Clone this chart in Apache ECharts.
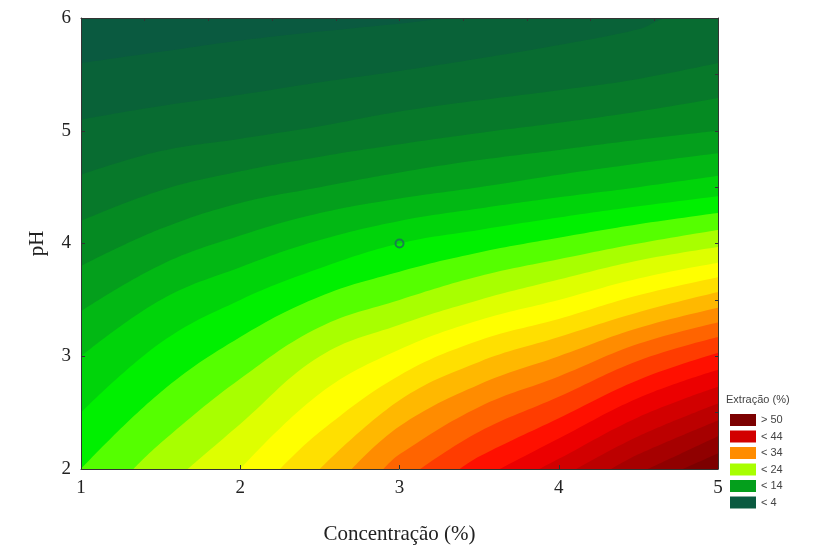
<!DOCTYPE html>
<html>
<head>
<meta charset="utf-8">
<script src="https://cdn.jsdelivr.net/npm/echarts@6/dist/echarts.min.js"></script>
<style>
  html, body { margin: 0; padding: 0; background: #fff; }
  #chart { width: 828px; height: 550px; }
</style>
</head>
<body>
<div id="chart"></div>
<script>
// contour lines: [concentration, pH] points, lower-left to upper-right
const iso04 = [[1, 5.6], [1.5, 5.7], [2, 5.8], [2.5, 5.88], [3, 5.95], [3.4, 6.0], [5, 6.0]]
const iso06 = [[1, 5.1], [1.5, 5.22], [2, 5.32], [2.5, 5.43], [3, 5.53], [3.5, 5.64], [4, 5.76], [4.5, 5.9], [4.7, 6.0], [5, 6.0]]
const iso08 = [[1, 4.61], [1.5, 4.82], [2, 4.93], [2.5, 5.04], [3, 5.17], [3.5, 5.27], [4, 5.36], [4.5, 5.46], [5, 5.6]]
const iso10 = [[1, 4.2], [1.5, 4.47], [2, 4.64], [2.5, 4.77], [3, 4.88], [3.5, 4.98], [4, 5.07], [4.5, 5.17], [5, 5.29]]
const iso12 = [[1, 3.8], [1.5, 4.13], [2, 4.36], [2.5, 4.5], [3, 4.63], [3.5, 4.74], [4, 4.83], [4.5, 4.92], [5, 5.0]]
const iso14 = [[1, 3.4], [1.5, 3.81], [2, 4.07], [2.5, 4.27], [3, 4.4], [3.5, 4.5], [4, 4.61], [4.5, 4.71], [5, 4.8]]
const iso16 = [[1, 3.0], [1.5, 3.5], [2, 3.79], [2.5, 4.03], [3, 4.2], [3.5, 4.31], [4, 4.41], [4.5, 4.5], [5, 4.6]]
const iso18 = [[1, 2.5], [1.5, 3.12], [2, 3.5], [2.5, 3.78], [3, 4.0], [3.5, 4.12], [4, 4.23], [4.5, 4.33], [5, 4.42]]
const iso20 = [[1, 2.0], [1.5, 2.68], [2, 3.17], [2.5, 3.53], [3, 3.75], [3.5, 3.92], [4, 4.05], [4.5, 4.17], [5, 4.27]]
const iso22 = [[1.33, 2], [1.5, 2.23], [2, 2.8], [2.5, 3.26], [3, 3.5], [3.5, 3.71], [4, 3.86], [4.5, 4.0], [5, 4.12]]
const iso24 = [[1.67, 2], [2, 2.4], [2.5, 3.0], [3, 3.28], [3.5, 3.5], [4, 3.68], [4.5, 3.85], [5, 3.97]]
const iso26 = [[2, 2], [2.5, 2.67], [3, 3.06], [3.5, 3.32], [4, 3.5], [4.5, 3.69], [5, 3.83]]
const iso28 = [[2.25, 2], [2.5, 2.33], [3, 2.83], [3.5, 3.14], [4, 3.33], [4.5, 3.54], [5, 3.7]]
const iso30 = [[2.5, 2], [3, 2.61], [3.5, 2.95], [4, 3.17], [4.5, 3.39], [5, 3.57]]
const iso32 = [[2.7, 2], [3, 2.38], [3.5, 2.75], [4, 3.0], [4.5, 3.25], [5, 3.43]]
const iso34 = [[2.9, 2], [3, 2.13], [3.5, 2.55], [4, 2.82], [4.5, 3.11], [5, 3.3]]
const iso36 = [[3.13, 2], [3.5, 2.33], [4, 2.64], [4.5, 2.96], [5, 3.17]]
const iso38 = [[3.38, 2], [3.5, 2.11], [4, 2.45], [4.5, 2.79], [5, 3.03]]
const iso40 = [[3.63, 2], [4, 2.27], [4.5, 2.63], [5, 2.88]]
const iso42 = [[3.88, 2], [4, 2.09], [4.5, 2.46], [5, 2.73]]
const iso44 = [[4.11, 2], [4.5, 2.29], [5, 2.58]]
const iso46 = [[4.33, 2], [4.5, 2.13], [5, 2.43]]
const iso48 = [[4.56, 2], [5, 2.29]]
const iso50 = [[4.78, 2], [5, 2.14]]

const levels = [4, 6, 8, 10, 12, 14, 16, 18, 20, 22, 24, 26, 28, 30, 32, 34, 36, 38, 40, 42, 44, 46, 48, 50]
const isolines = [iso04, iso06, iso08, iso10, iso12, iso14, iso16, iso18, iso20, iso22, iso24, iso26,
  iso28, iso30, iso32, iso34, iso36, iso38, iso40, iso42, iso44, iso46, iso48, iso50]

// whole plot area (lowest band) and the centre point
const plotFrame = [[1, 6], [5, 6]]
const centerPoint = [[3, 4]]

const legendLabels = ['> 50', '< 44', '< 34', '< 24', '< 14', '< 4']
// which band each legend entry shows (index into the band list, 0 = below 4)
const legendBands = [24, 20, 15, 10, 5, 0]

// band colours, from lowest (< 4) to highest (> 50)
const bandColors = [
  '#0a5a40', '#096238', '#086c31', '#07792a', '#058a22', '#049f1c', '#02b814', '#00d40a',
  '#00f000', '#55ff00', '#a8ff00', '#deff00', '#ffff00', '#ffe000', '#ffb800', '#ff8c00',
  '#ff6400', '#ff3c00', '#ff1000', '#ec0000', '#d20000', '#bc0000', '#a60000', '#900000', '#7c0000'
]

function bandName(band) {
  const i = legendBands.indexOf(band)
  return i >= 0 ? legendLabels[i] : 'band' + band
}

function areaSeries(name, data, color) {
  return {
    name: name,
    type: 'line',
    data: data,
    color: color,
    smooth: 0.4,
    symbol: 'none',
    silent: true,
    lineStyle: { width: 0, opacity: 0 },
    areaStyle: { color: color, opacity: 1, origin: 'start' },
    itemStyle: { color: color }
  }
}

const series = [areaSeries(bandName(0), plotFrame, bandColors[0])]
isolines.forEach((line, i) => {
  series.push(areaSeries(bandName(i + 1), line, bandColors[i + 1]))
})
series.push({
  name: 'centro',
  type: 'scatter',
  data: centerPoint,
  symbol: 'circle',
  symbolSize: 8,
  z: 10,
  itemStyle: { color: 'rgba(0,0,0,0)', borderColor: '#1c6a5c', borderWidth: 2 }
})

const serif = 'Liberation Serif'
const frameLine = { show: true, lineStyle: { color: '#333', width: 1 } }

const chart = echarts.init(document.getElementById('chart'), null, { renderer: 'canvas' })
chart.setOption({
  animation: false,
  backgroundColor: '#fff',
  grid: { left: 81, right: 110, top: 18, bottom: 80 },
  title: {
    text: 'Extração (%)',
    left: 721,
    top: 389,
    textStyle: { fontFamily: 'Liberation Sans', fontSize: 11, fontWeight: 'normal', color: '#444' }
  },
  legend: {
    data: legendLabels,
    orient: 'vertical',
    left: 725,
    top: 409,
    itemWidth: 26,
    itemHeight: 12,
    itemGap: 4.5,
    icon: 'rect',
    selectedMode: false,
    textStyle: { fontFamily: 'Liberation Sans', fontSize: 11, color: '#444' }
  },
  xAxis: [
    {
      type: 'value',
      min: 1,
      max: 5,
      interval: 1,
      name: 'Concentração (%)',
      nameLocation: 'middle',
      nameGap: 55,
      nameTextStyle: { fontFamily: serif, fontSize: 21, color: '#222' },
      axisLine: frameLine,
      axisTick: { inside: true, length: 4, lineStyle: { color: '#333' } },
      axisLabel: { fontFamily: serif, fontSize: 19, color: '#222', margin: 10 },
      splitLine: { show: false },
      z: 20
    },
    {
      type: 'value',
      position: 'top',
      min: 1,
      max: 5,
      interval: 0.4,
      axisLine: frameLine,
      axisTick: { inside: true, length: 3, lineStyle: { color: '#333' } },
      axisLabel: { show: false },
      splitLine: { show: false },
      z: 20
    }
  ],
  yAxis: [
    {
      type: 'value',
      min: 2,
      max: 6,
      interval: 1,
      name: 'pH',
      nameLocation: 'middle',
      nameGap: 33,
      nameTextStyle: { fontFamily: serif, fontSize: 21, color: '#222' },
      axisLine: frameLine,
      axisTick: { inside: true, length: 4, lineStyle: { color: '#333' } },
      axisLabel: { fontFamily: serif, fontSize: 19, color: '#222', margin: 10 },
      splitLine: { show: false },
      z: 20
    },
    {
      type: 'value',
      position: 'right',
      min: 2,
      max: 6,
      interval: 0.5,
      axisLine: frameLine,
      axisTick: { inside: true, length: 3, lineStyle: { color: '#333' } },
      axisLabel: { show: false },
      splitLine: { show: false },
      z: 20
    }
  ],
  series: series
})
</script>
</body>
</html>
